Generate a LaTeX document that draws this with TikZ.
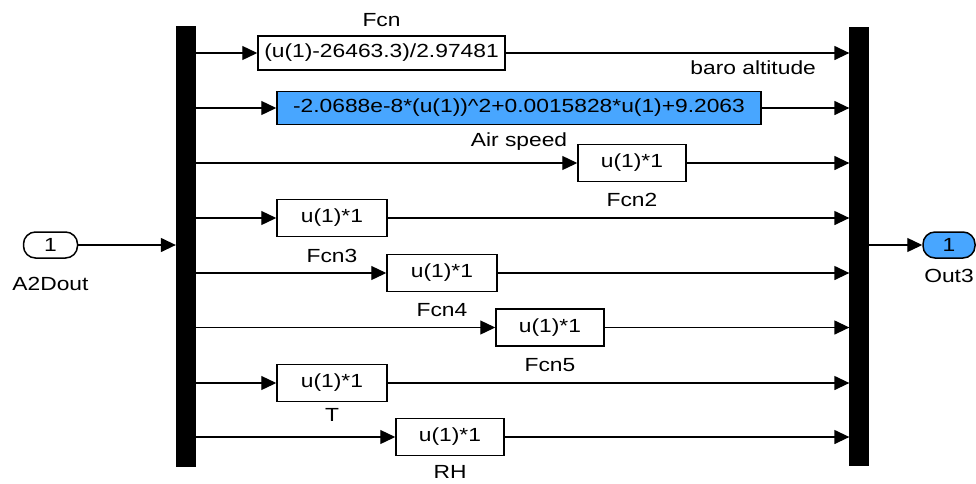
\documentclass[tikz,border=0pt]{standalone}
\usepackage{fontspec}
\setmainfont[FakeStretch=1.2]{Liberation Sans}
\usetikzlibrary{arrows.meta, positioning}
\definecolor{blockblue}{RGB}{72,166,255}

\begin{document}
\begin{tikzpicture}[x=1pt, y=-1pt, >={Triangle[length=15pt, width=14pt]}, line width=1.3pt,
  every node/.style={font=\fontsize{19}{22}\selectfont},
  fcnbox/.style={draw, line width=1.5pt, minimum width=108pt, minimum height=37pt, inner sep=0pt},
  bar/.style={fill=black, draw=black, minimum width=19pt, inner sep=0pt},
  port/.style={draw, line width=1.5pt, rounded corners=12pt, minimum width=54pt, minimum height=26pt, inner sep=0pt},
  blklabel/.style={inner sep=0pt}]

  \useasboundingbox (0,0) rectangle (976,483);

  % Nodes
  \node (demux) [bar, minimum height=439pt] at (186,246.5) {};
  \node (mux) [bar, minimum width=18pt, minimum height=437pt] at (859,246.5) {};
  \node (a2d) [port] at (50.5,245) {1};
  \node (out3) [port, fill=blockblue, minimum width=52pt] at (949,245) {1};

  \node (fcn) [fcnbox, minimum width=247pt, minimum height=34pt] at (381.5,53) {(u(1)-26463.3)/2.97481};
  \node (air) [fcnbox, fill=blockblue, minimum width=484pt, minimum height=33pt] at (519,108) {-2.0688e-8*(u(1))\textasciicircum2+0.0015828*u(1)+9.2063};
  \node (fcn2) [fcnbox] at (632,163) {u(1)*1};
  \node (fcn3) [fcnbox, minimum width=110pt] at (332,218) {u(1)*1};
  \node (fcn4) [fcnbox, minimum width=110pt] at (442,273) {u(1)*1};
  \node (fcn5) [fcnbox] at (550,327.5) {u(1)*1};
  \node (t) [fcnbox, minimum width=110pt] at (332,383) {u(1)*1};
  \node (rh) [fcnbox] at (450,437) {u(1)*1};

  % Labels
  \node (a2dlbl) [blklabel, below=18pt of a2d] {A2Dout};
  \node (out3lbl) [blklabel, below=10pt of out3] {Out3};
  \node (fcnlbl) [blklabel, above=8pt of fcn] {Fcn};
  \node (airlbl) [blklabel, below=7pt of air] {Air speed};
  \node (fcn2lbl) [blklabel, below=10pt of fcn2] {Fcn2};
  \node (fcn3lbl) [blklabel, below=11pt of fcn3] {Fcn3};
  \node (fcn4lbl) [blklabel, below=11pt of fcn4] {Fcn4};
  \node (fcn5lbl) [blklabel, below=11pt of fcn5] {Fcn5};
  \node (tlbl) [blklabel, below=6pt of t] {T};
  \node (rhlbl) [blklabel, below=9pt of rh] {RH};

  % Edges
  \draw[->] (a2d) -- (demux.west |- a2d);
  \draw[->] (mux.east |- out3) -- (out3);
  \draw[->] (demux.east |- fcn) -- (fcn);
  \draw[->] (fcn) -- node (baro) [blklabel, pos=0.72, below=7pt] {baro altitude} (mux.west |- fcn);
  \foreach \blk in {air, fcn2, fcn3, fcn4, fcn5, t, rh} {
    \draw[->] (demux.east |- \blk) -- (\blk);
    \draw[->] (\blk) -- (mux.west |- \blk);
  }

\end{tikzpicture}
\end{document}
